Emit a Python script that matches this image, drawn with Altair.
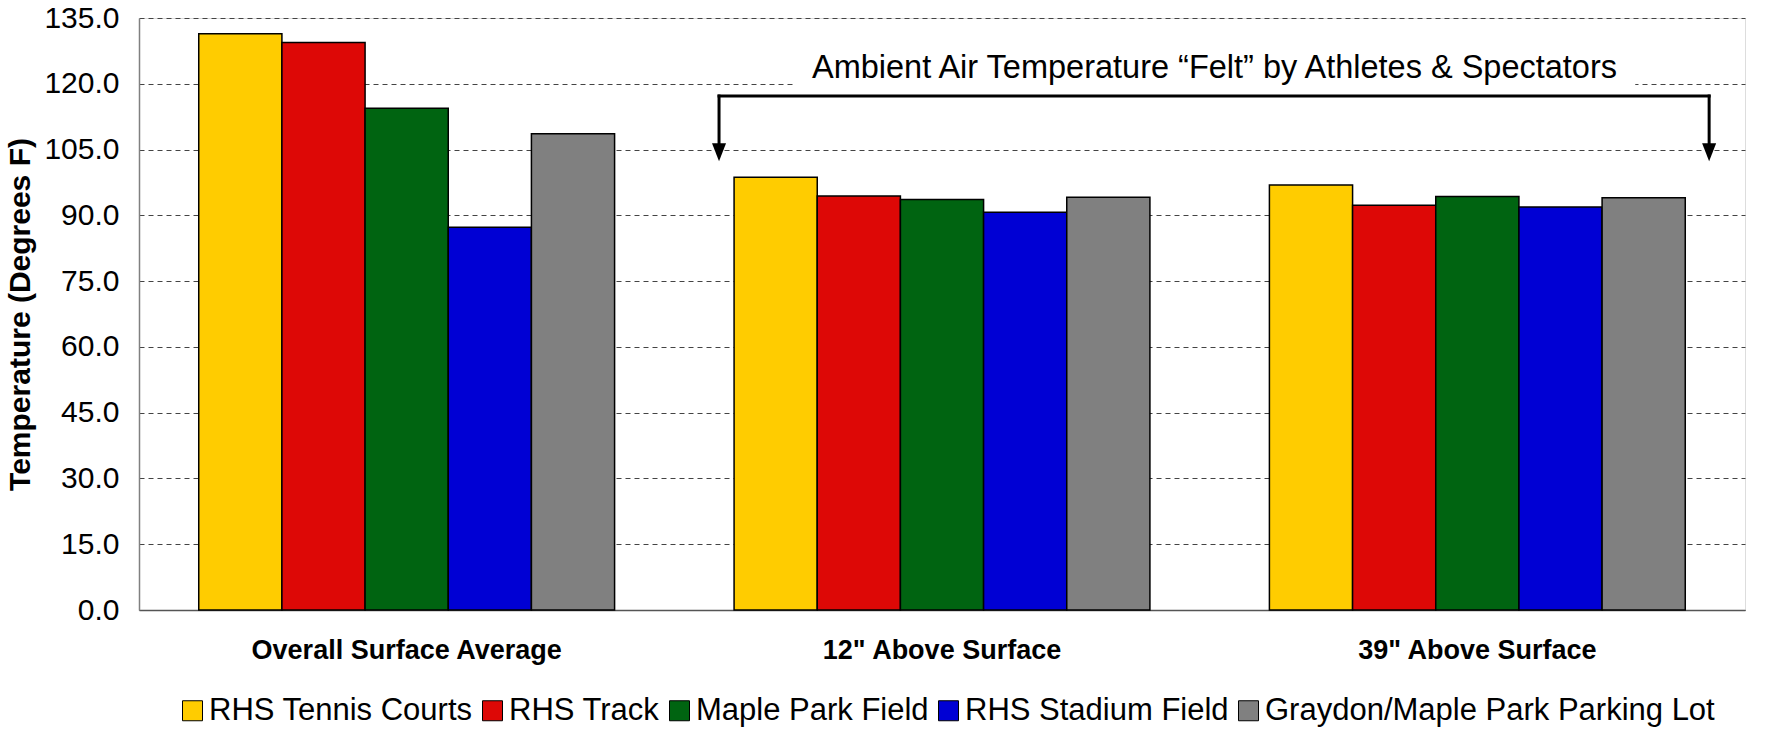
import altair as alt
import pandas as pd

groups = ["Overall Surface Average", "12\" Above Surface", "39\" Above Surface"]
series = ["RHS Tennis Courts", "RHS Track", "Maple Park Field", "RHS Stadium Field",
          "Graydon/Maple Park Parking Lot"]
colors = ["#FFCC00", "#DD0806", "#006411", "#0000D4", "#808080"]
surface_avg = [131.4, 129.4, 114.4, 87.3, 108.6]
above_12 = [98.7, 94.4, 93.6, 90.7, 94.1]
above_39 = [96.9, 92.3, 94.3, 91.9, 94.0]
y_ticks = [0, 15, 30, 45, 60, 75, 90, 105, 120, 135]
y_title = "Temperature (Degrees F)"

annot_text = "Ambient Air Temperature \u201cFelt\u201d by Athletes & Spectators"
# annotation positions in a 0..3 group-index space and in temperature units
bracket_x = [1.0835, 2.933]
bracket_y = 117.2
arrow_base_y = 106.3
arrow_center_y = 104.4
text_x = 2.009
text_y = 123.6
textbox_x = [1.2255, 2.795]
textbox_y = [118.2, 129.5]

FONT = "Liberation Sans"

rows = []
for g, vals in zip(groups, [surface_avg, above_12, above_39]):
    for s, v in zip(series, vals):
        rows.append({"group": g, "series": s, "value": v})
df = pd.DataFrame(rows)

W, H = 1606, 592

y_axis = alt.Axis(title=y_title, values=y_ticks, format=".1f",
                  ticks=False, labelFontSize=30, labelFont=FONT, labelColor="black",
                  labelPadding=20, titleFontSize=30, titleFont=FONT,
                  titleFontWeight="bold", titleColor="black", titlePadding=8,
                  grid=True, gridDash=[5, 4], gridColor="#444444", gridWidth=1,
                  domainColor="#808080", domainWidth=1.5)
qy = alt.Scale(domain=[0, 135], nice=False)
qx = alt.Scale(domain=[0, 3], nice=False, zero=False)


def Y(field):
    return alt.Y(field, scale=qy, axis=y_axis, title=y_title)


bars = alt.Chart(df).mark_bar(stroke="black", strokeWidth=1.5).encode(
    x=alt.X("group:N", sort=groups,
            scale=alt.Scale(paddingInner=0.2232, paddingOuter=0.1116),
            axis=alt.Axis(title=None, labelAngle=0, ticks=False, labelFontSize=27,
                          labelFontWeight="bold", labelFont=FONT, labelColor="black",
                          labelPadding=27, labelLimit=1000, domainColor="#555555",
                          domainWidth=1.5)),
    xOffset=alt.XOffset("series:N", sort=series,
                        scale=alt.Scale(paddingInner=0, paddingOuter=0)),
    y=Y("value:Q"),
    color=alt.Color("series:N", sort=series,
                    scale=alt.Scale(domain=series, range=colors),
                    legend=alt.Legend(title=None, orient="none", legendX=38, legendY=677,
                                      direction="horizontal", symbolType="square",
                                      symbolSize=400, symbolStrokeColor="black",
                                      symbolStrokeWidth=1, labelFontSize=31, labelFont=FONT,
                                      labelColor="black", labelOffset=1, columnPadding=4,
                                      labelLimit=1000)),
)

box_df = pd.DataFrame({"x": [textbox_x[0]], "x2": [textbox_x[1]],
                       "y": [textbox_y[0]], "y2": [textbox_y[1]]})
box = alt.Chart(box_df).mark_rect(fill="white").encode(
    x=alt.X("x:Q", scale=qx, axis=None), x2="x2:Q",
    y=Y("y:Q"), y2="y2:Q")

hline_df = pd.DataFrame({"x": [bracket_x[0]], "x2": [bracket_x[1]], "y": [bracket_y]})
hline = alt.Chart(hline_df).mark_rule(color="black", strokeWidth=3, strokeCap="square").encode(
    x=alt.X("x:Q", scale=qx, axis=None), x2="x2:Q",
    y=Y("y:Q"))

vline_df = pd.DataFrame({"x": bracket_x, "y": [bracket_y] * 2, "y2": [arrow_base_y] * 2})
vlines = alt.Chart(vline_df).mark_rule(color="black", strokeWidth=3, strokeCap="square").encode(
    x=alt.X("x:Q", scale=qx, axis=None),
    y=Y("y:Q"), y2="y2:Q")

arrow_df = pd.DataFrame({"x": bracket_x, "y": [arrow_center_y] * 2})
arrows = alt.Chart(arrow_df).mark_point(shape="M-0.78,-1L0.78,-1L0,1Z", filled=True,
                                        color="black", size=324, opacity=1).encode(
    x=alt.X("x:Q", scale=qx, axis=None),
    y=Y("y:Q"))

text_df = pd.DataFrame({"x": [text_x], "y": [text_y], "t": [annot_text]})
text = alt.Chart(text_df).mark_text(font=FONT, fontSize=32.5, color="black",
                                    align="center", baseline="middle").encode(
    x=alt.X("x:Q", scale=qx, axis=None),
    y=Y("y:Q"),
    text="t:N")

chart = alt.layer(bars, box, hline, vlines, arrows, text).resolve_scale(
    x="independent", y="shared"
).properties(
    width=W, height=H,
    autosize=alt.AutoSizeParams(type="none"),
    padding={"left": 139, "top": 18, "right": 23, "bottom": 123},
).configure_view(stroke=None).configure(background="white")

chart.save("out.html", embed_options={"renderer": "svg", "actions": False})
